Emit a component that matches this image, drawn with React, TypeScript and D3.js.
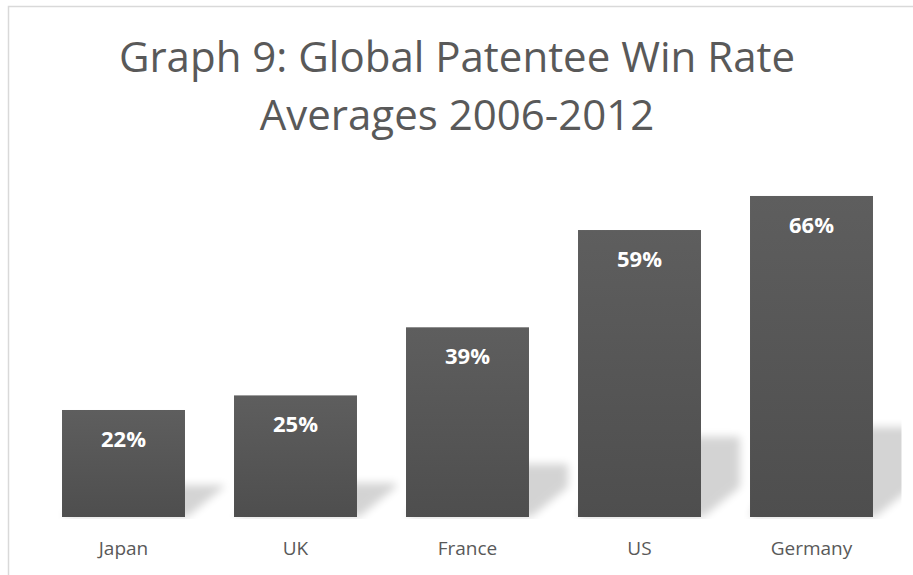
import React from "react";
import * as d3 from "d3";

const categories = ["Japan", "UK", "France", "US", "Germany"];
const values = [0.22, 0.25, 0.39, 0.59, 0.66];
const valueLabels = ["22%", "25%", "39%", "59%", "66%"];
const titleLines = ["Graph 9: Global Patentee Win Rate", "Averages 2006-2012"];

export default function App() {
  const W = 913;
  const H = 575;
  const base = 517;
  const x = d3
    .scaleBand<string>()
    .domain(categories)
    .range([37.5, 897.5])
    .paddingInner(0.285)
    .paddingOuter(0.1425);
  const y = d3.scaleLinear().domain([0, 0.7]).range([base, base - 0.7 * 486.4]);
  const font = "'Open Sans', 'Liberation Sans', sans-serif";

  return (
    <svg
      width={W}
      height={H}
      style={{ position: "absolute", left: 0, top: 0, background: "#fff" }}
    >
      <defs>
        <linearGradient id="barGrad" x1="0" y1="0" x2="0" y2="1">
          <stop offset="0%" stopColor="#5e5e5e" />
          <stop offset="100%" stopColor="#4e4e4e" />
        </linearGradient>
        <filter id="blur" x="-50%" y="-50%" width="200%" height="200%">
          <feGaussianBlur stdDeviation="4.5" />
        </filter>
        <clipPath id="plotClip">
          <rect x={37.5} y={100} width={864} height={base - 100 + 2} />
        </clipPath>
      </defs>
      <rect x={8.5} y={6.5} width={1000} height={1000} fill="#fff" stroke="#d9d9d9" strokeWidth={1.5} />
      {titleLines.map((t, i) => (
        <text
          key={i}
          x={457}
          y={72 + i * 58}
          textAnchor="middle"
          fontFamily={font}
          fontSize={42}
          fill="#595959"
        >
          {t}
        </text>
      ))}
      <g clipPath="url(#plotClip)">
        {categories.map((c, i) => {
          const x0 = x(c)!;
          const x1 = x0 + x.bandwidth();
          const h = base - y(values[i]);
          const sh = Math.max(32, h * 0.28);
          const dx = 39;
          const pts = [
            [x0, base],
            [x1 + 2, base],
            [x1 + dx, base - 30],
            [x1 + dx, base - sh],
            [x0 + dx, base - sh],
          ]
            .map((p) => p.join(","))
            .join(" ");
          return (
            <polygon key={c} points={pts} fill="#000" opacity={0.17} filter="url(#blur)" />
          );
        })}
      </g>
      {categories.map((c, i) => (
        <rect
          key={c}
          x={x(c)}
          y={y(values[i])}
          width={x.bandwidth()}
          height={base - y(values[i])}
          fill="url(#barGrad)"
        />
      ))}
      {categories.map((c, i) => (
        <text
          key={c}
          x={x(c)! + x.bandwidth() / 2}
          y={y(values[i]) + 36.7}
          textAnchor="middle"
          fontFamily={font}
          fontWeight="bold"
          fontSize={22}
          fill="#ffffff"
        >
          {valueLabels[i]}
        </text>
      ))}
      {categories.map((c) => (
        <text
          key={c}
          x={x(c)! + x.bandwidth() / 2}
          y={555}
          textAnchor="middle"
          fontFamily={font}
          fontSize={19}
          fill="#595959"
        >
          {c}
        </text>
      ))}
    </svg>
  );
}
